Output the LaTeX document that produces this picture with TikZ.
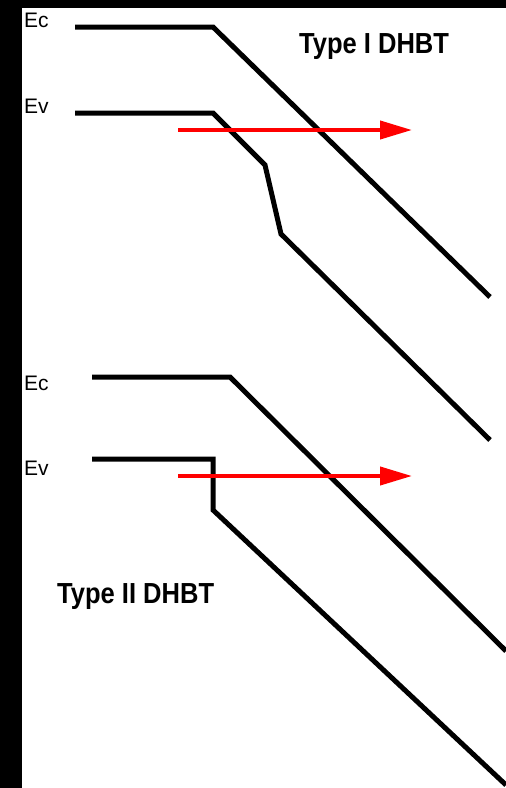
\documentclass[tikz,border=0pt]{standalone}
\usepackage{fontspec}
\setmainfont{Liberation Sans}
\newfontfamily\narrowbold[FakeStretch=0.88]{Liberation Sans Bold}
\usetikzlibrary{arrows.meta}
\begin{document}
\begin{tikzpicture}[x=1pt,y=-1pt,
  band/.style={line width=5pt, line join=miter},
  inject/.style={draw=red, line width=4pt, -{Triangle[length=32pt,width=18pt]}},
  lvl/.style={anchor=base west, inner sep=0pt, font=\fontsize{21}{25}\selectfont},
  title/.style={anchor=base west, inner sep=0pt, font=\fontsize{29}{34}\narrowbold}]
\useasboundingbox (0,0) rectangle (506,788);
\fill[white] (0,0) rectangle (506,788);
\fill[black] (0,0) rectangle (22,788);
\fill[black] (0,0) rectangle (506,8);
% Type I
\coordinate (c1a) at (75,27);
\coordinate (c1b) at (213,27);
\coordinate (c1c) at (490,297);
\coordinate (v1a) at (75,113);
\coordinate (v1b) at (213,113);
\coordinate (v1c) at (265,165);
\coordinate (v1d) at (281,234);
\coordinate (v1e) at (490,440);
\draw[band] (c1a) -- (c1b) -- (c1c);
\draw[band] (v1a) -- (v1b) -- (v1c) -- (v1d) -- (v1e);
\coordinate (r1s) at (178,130);
\coordinate (r1e) at (412,130);
\draw[inject] (r1s) -- (r1e);
\node[lvl] (ec1) at (24,27) {Ec};
\node[lvl] (ev1) at (24,113) {Ev};
\node[title] (t1) at (299,53) {Type I DHBT};
% Type II
\coordinate (c2a) at (92,377);
\coordinate (c2b) at (230,377);
\coordinate (c2c) at (506,651);
\coordinate (v2a) at (92,459);
\coordinate (v2b) at (213,459);
\coordinate (v2c) at (213,510);
\coordinate (v2d) at (506,785);
\draw[band] (c2a) -- (c2b) -- (c2c);
\draw[band] (v2a) -- (v2b) -- (v2c) -- (v2d);
\coordinate (r2s) at (178,476);
\coordinate (r2e) at (412,476);
\draw[inject] (r2s) -- (r2e);
\node[lvl] (ec2) at (24,390) {Ec};
\node[lvl] (ev2) at (24,475) {Ev};
\node[title] (t2) at (57,603) {Type II DHBT};
\end{tikzpicture}
\end{document}
